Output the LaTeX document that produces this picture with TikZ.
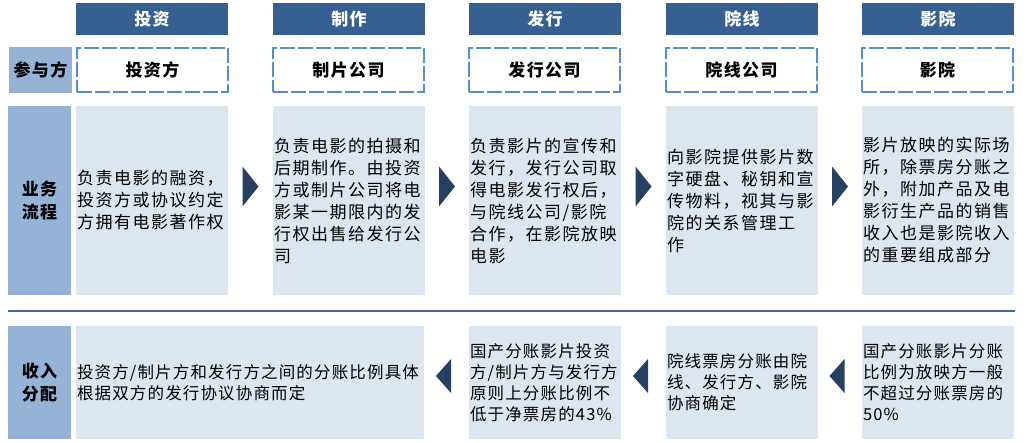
\documentclass[tikz,border=0pt]{standalone}
\usepackage{fontspec}
\setmainfont{Noto Sans CJK SC}
\newfontfamily\cjkbody[LetterSpace=9]{Noto Sans CJK SC}
\newfontfamily\cjkbot[LetterSpace=7]{Noto Sans CJK SC}
\newfontfamily\cjklab[LetterSpace=8]{Noto Sans CJK SC}
\usetikzlibrary{calc}
\definecolor{hdrblue}{RGB}{54,96,146}
\definecolor{labblue}{RGB}{149,179,215}
\definecolor{boxfill}{RGB}{220,230,241}
\definecolor{dashblue}{RGB}{85,142,213}
\definecolor{arrblue}{RGB}{37,64,97}
\definecolor{seplin}{RGB}{68,104,155}
\begin{document}
\begin{tikzpicture}[x=1pt,y=-1pt,
  hdr/.style={fill=hdrblue,text=white,font={\cjklab\bfseries\fontsize{17}{20}\selectfont},
    minimum width=152pt,minimum height=32pt,anchor=north west,inner sep=0pt,outer sep=0pt},
  part/.style={draw=dashblue,line width=2pt,dash pattern=on 15pt off 3pt,fill=white,
    font={\cjklab\bfseries\fontsize{17}{20}\selectfont},
    minimum width=151pt,minimum height=44pt,anchor=north west,inner sep=0pt,outer sep=0pt},
  lab/.style={fill=labblue,font={\cjklab\bfseries\fontsize{17}{23}\selectfont},
    minimum width=63pt,anchor=north west,inner sep=0pt,outer sep=0pt,align=center},
  box/.style={fill=boxfill,minimum width=152pt,text width=150pt,align=left,
    anchor=north west,inner xsep=1pt,inner ysep=0pt,outer sep=0pt,
    font={\cjkbody\fontsize{17}{22}\selectfont\setlength{\parindent}{0pt}}},
  bbox/.style={box,minimum height=113pt,
    font={\cjkbot\fontsize{16.5}{21}\selectfont\setlength{\parindent}{0pt}}},
  arr/.style={fill=arrblue},
  sep/.style={draw=seplin,line width=1.5pt}
]
\useasboundingbox (0,0) rectangle (1027,443);

% headers
\node[hdr] (h1) at (76,3) {投资};
\node[hdr] (h2) at (273,3) {制作};
\node[hdr] (h3) at (469,3) {发行};
\node[hdr] (h4) at (666,3) {院线};
\node[hdr] (h5) at (862,3) {影院};

% participants row
\node[lab,minimum height=46pt] (l1) at (9,47) {参与方};
\node[part] (p1) at (77,48) {投资方};
\node[part] (p2) at (273,48) {制片公司};
\node[part] (p3) at (469,48) {发行公司};
\node[part] (p4) at (666,48) {院线公司};
\node[part] (p5) at (862,48) {影院};

% business process row
\node[lab,minimum height=189pt] (l2) at (8,106) {业务\\流程};
\node[box,minimum height=189pt] (c1) at (76,106) {负责电影的融资，\\投资方或协议约定\\方拥有电影著作权};
\node[box,minimum height=189pt] (c2) at (273,106) {负责电影的拍摄和\\后期制作。由投资\\方或制片公司将电\\影某一期限内的发\\行权出售给发行公\\司};
\node[box,minimum height=189pt] (c3) at (469,106) {负责影片的宣传和\\发行，发行公司取\\得电影发行权后，\\与院线公司/影院\\合作，在影院放映\\电影};
\node[box,minimum height=189pt] (c4) at (666,106) {向影院提供影片数\\字硬盘、秘钥和宣\\传物料，视其与影\\院的关系管理工\\作};
\node[box,minimum height=189pt] (c5) at (862,106) {影片放映的实际场\\所，除票房分账之\\外，附加产品及电\\影衍生产品的销售\\收入也是影院收入\\的重要组成部分};

% arrows between process boxes
\foreach \a/\b in {c1/c2,c2/c3,c3/c4,c4/c5}{
  \coordinate (m) at ($(\a.east)!0.5!(\b.west)$);
  \fill[arr] ($(m)+(-8,-34)$) -- ($(m)+(8,-14)$) -- ($(m)+(-8,6)$) -- cycle;
}

% separator
\coordinate (s1) at (8,311);
\coordinate (s2) at (1015,311);
\draw[sep] (s1) -- (s2);

% revenue row
\node[lab,minimum height=113pt] (l3) at (8,326) {收入\\分配};
\node[bbox,minimum width=348pt,text width=346pt] (d1) at (76,326) {投资方/制片方和发行方之间的分账比例具体\\根据双方的发行协议协商而定};
\node[bbox] (d2) at (469,326) {国产分账影片投资\\方/制片方与发行方\\原则上分账比例不\\低于净票房的43\%};
\node[bbox] (d3) at (666,326) {院线票房分账由院\\线、发行方、影院\\协商确定};
\node[bbox] (d4) at (862,326) {国产分账影片分账\\比例为放映方一般\\不超过分账票房的\\50\%};

\foreach \a/\b in {d1/d2,d2/d3,d3/d4}{
  \coordinate (m) at ($(\a.east)!0.5!(\b.west)$);
  \fill[arr] ($(m)+(4.5,-23.5)$) -- ($(m)+(-10.5,-6.5)$) -- ($(m)+(4.5,10.5)$) -- cycle;
}
\end{tikzpicture}
\end{document}
